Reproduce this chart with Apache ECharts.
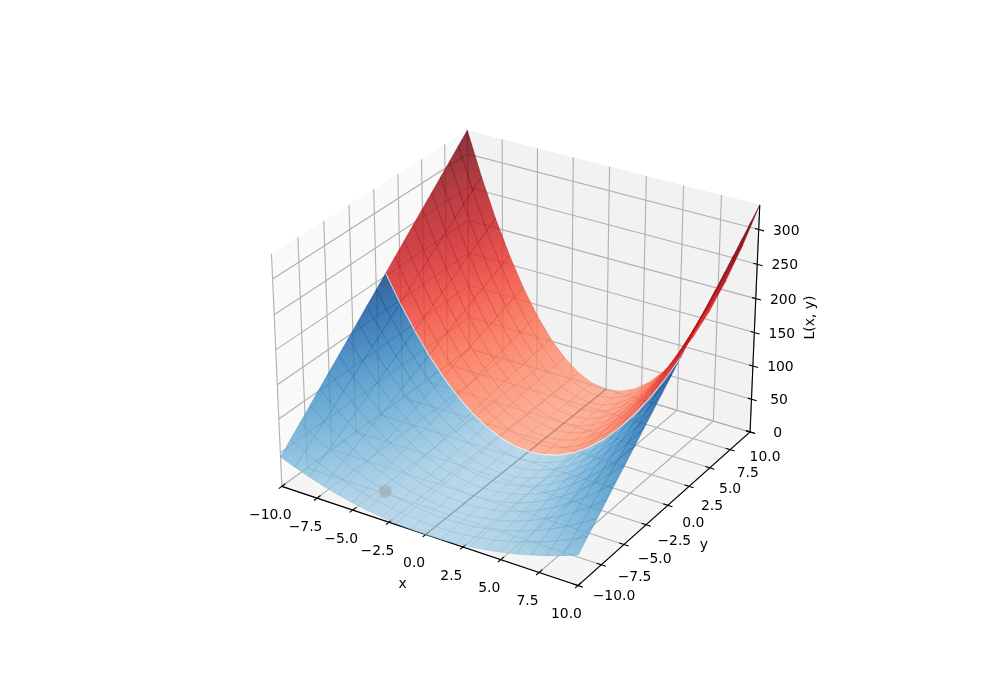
<!DOCTYPE html>
<html><head><meta charset="utf-8"><style>html,body{margin:0;padding:0;background:#fff}#c{width:1000px;height:700px}</style>
<script src="https://cdn.jsdelivr.net/npm/echarts@6/dist/echarts.min.js"></script></head><body><div id="c"></div>
<script>
const xValues=[-10,-9,-8,-7,-6,-5,-4,-3,-2,-1,0,1,2,3,4,5,6,7,8,9,10];
const yValues=[-10,-9,-8,-7,-6,-5,-4,-3,-2,-1,0,1,2,3,4,5,6,7,8,9,10];
const zTable=[
[44,35.6,28.2,21.6,15.8,11,7,4,1.8,.4,0,.4,1.8,4,7,11,15.8,21.6,28.2,35.6,44],
[58.6,47.4,37.5,28.7,21.1,14.6,9.4,5.3,2.3,.6,0,.6,2.3,5.3,9.4,14.6,21.1,28.7,37.5,47.4,58.6],
[73.1,59.2,46.8,35.8,26.3,18.3,11.7,6.6,2.9,.7,0,.7,2.9,6.6,11.7,18.3,26.3,35.8,46.8,59.2,73.1],
[87.7,71,56.1,42.9,31.6,21.9,14,7.9,3.5,.9,0,.9,3.5,7.9,14,21.9,31.6,42.9,56.1,71,87.7],
[102.2,82.8,65.4,50.1,36.8,25.6,16.4,9.2,4.1,1,0,1,4.1,9.2,16.4,25.6,36.8,50.1,65.4,82.8,102.2],
[116.8,94.6,74.7,57.2,42,29.2,18.7,10.5,4.7,1.2,0,1.2,4.7,10.5,18.7,29.2,42,57.2,74.7,94.6,116.8],
[131.3,106.4,84,64.3,47.3,32.8,21,11.8,5.3,1.3,0,1.3,5.3,11.8,21,32.8,47.3,64.3,84,106.4,131.3],
[145.9,118.1,93.3,71.5,52.5,36.5,23.3,13.1,5.8,1.5,0,1.5,5.8,13.1,23.3,36.5,52.5,71.5,93.3,118.1,145.9],
[160.4,129.9,102.7,78.6,57.7,40.1,25.7,14.4,6.4,1.6,0,1.6,6.4,14.4,25.7,40.1,57.7,78.6,102.7,129.9,160.4],
[175,141.7,112,85.7,63,43.7,28,15.7,7,1.7,0,1.7,7,15.7,28,43.7,63,85.7,112,141.7,175],
[189.5,153.5,121.3,92.9,68.2,47.4,30.3,17.1,7.6,1.9,0,1.9,7.6,17.1,30.3,47.4,68.2,92.9,121.3,153.5,189.5],
[204,165.3,130.6,100,73.5,51,32.6,18.4,8.2,2,0,2,8.2,18.4,32.6,51,73.5,100,130.6,165.3,204],
[218.6,177.1,139.9,107.1,78.7,54.7,35,19.7,8.7,2.2,0,2.2,8.7,19.7,35,54.7,78.7,107.1,139.9,177.1,218.6],
[233.2,188.9,149.2,114.2,83.9,58.3,37.3,21,9.3,2.3,0,2.3,9.3,21,37.3,58.3,83.9,114.2,149.2,188.9,233.2],
[247.7,200.6,158.5,121.4,89.2,61.9,39.6,22.3,9.9,2.5,0,2.5,9.9,22.3,39.6,61.9,89.2,121.4,158.5,200.6,247.7],
[262.3,212.4,167.8,128.5,94.4,65.6,42,23.6,10.5,2.6,0,2.6,10.5,23.6,42,65.6,94.4,128.5,167.8,212.4,262.3],
[276.8,224.2,177.2,135.6,99.6,69.2,44.3,24.9,11.1,2.8,0,2.8,11.1,24.9,44.3,69.2,99.6,135.6,177.2,224.2,276.8],
[291.4,236,186.5,142.8,104.9,72.8,46.6,26.2,11.7,2.9,0,2.9,11.7,26.2,46.6,72.8,104.9,142.8,186.5,236,291.4],
[305.9,247.8,195.8,149.9,110.1,76.5,48.9,27.5,12.2,3.1,0,3.1,12.2,27.5,48.9,76.5,110.1,149.9,195.8,247.8,305.9],
[320.5,259.6,205.1,157,115.4,80.1,51.3,28.8,12.8,3.2,0,3.2,12.8,28.8,51.3,80.1,115.4,157,205.1,259.6,320.5],
[335,271.4,214.4,164.2,120.6,83.8,53.6,30.2,13.4,3.4,0,3.4,13.4,30.2,53.6,83.8,120.6,164.2,214.4,271.4,335]];
const splitRow=11;
const xTicks=[-10,-7.5,-5,-2.5,0,2.5,5,7.5,10];
const yTicks=[-10,-7.5,-5,-2.5,0,2.5,5,7.5,10];
const zTicks=[0,50,100,150,200,250,300];
const xLabels=['−10.0','−7.5','−5.0','−2.5','0.0','2.5','5.0','7.5','10.0'];
const yLabels=['−10.0','−7.5','−5.0','−2.5','0.0','2.5','5.0','7.5','10.0'];
const zLabels=['0','50','100','150','200','250','300'];
const marker=[-4.6,-7.3,0];
const ZMAX=335, XMIN=-10,XMAX=10,YMIN=-10,YMAX=10;
const ELEV=28*Math.PI/180, AZIM=-58*Math.PI/180, DIST=10;
const k=1.8294640721620434*25/24/Math.sqrt(41), bx=4*k,by=4*k,bz=3*k;
const w=[Math.cos(ELEV)*Math.cos(AZIM),Math.cos(ELEV)*Math.sin(AZIM),Math.sin(ELEV)];
const hn=Math.hypot(w[0],w[1]);
const u=[-w[1]/hn,w[0]/hn,0];
const v=[w[1]*u[2]-w[2]*u[1],w[2]*u[0]-w[0]*u[2],w[0]*u[1]-w[1]*u[0]];
function view(x,y,z){
  const d=[(x-XMIN)/(XMAX-XMIN)*bx-bx/2,(y-YMIN)/(YMAX-YMIN)*by-by/2,z/ZMAX*bz-bz/2];
  const dot=(a)=>a[0]*d[0]+a[1]*d[1]+a[2]*d[2];
  return [dot(u),dot(v),dot(w)-DIST];
}
function proj(x,y,z){const p=view(x,y,z);return [p[0]/-p[2],p[1]/-p[2]];}
const BLUES=['#f7fbff','#deebf7','#c6dbef','#9ecae1','#6baed6','#4292c6','#2171b5','#08519c','#08306b'];
const REDS=['#fff5f0','#fee0d2','#fcbba1','#fc9272','#fb6a4a','#ef3b2c','#cb181d','#a50f15','#67000d'];
function hex(c){return [1,3,5].map(i=>parseInt(c.substr(i,2),16));}
function cmap(st,t,al){t=Math.max(0,Math.min(1,t))*8;const i=Math.min(7,Math.floor(t)),f=t-i,a=hex(st[i]),b=hex(st[i+1]);
  return 'rgba('+[0,1,2].map(n=>Math.round(a[n]+(b[n]-a[n])*f)).join(',')+','+al+')';}
const tBlue=z=>0.33+0.63*z/204, tRed=z=>0.33+0.67*z/335;
const cells=[];
for(let j=0;j<20;j++)for(let i=0;i<20;i++){
  const xm=(xValues[i]+xValues[i+1])/2,ym=(yValues[j]+yValues[j+1])/2;
  const zm=(zTable[j][i]+zTable[j][i+1]+zTable[j+1][i]+zTable[j+1][i+1])/4;
  cells.push([i,j,view(xm,ym,zm)[2]]);
}
cells.sort((a,b)=>a[2]-b[2]);
const panes=[
 [[XMIN,YMIN,0],[XMIN,YMAX,0],[XMIN,YMAX,ZMAX],[XMIN,YMIN,ZMAX],'#f9f9f9'],
 [[XMIN,YMAX,0],[XMAX,YMAX,0],[XMAX,YMAX,ZMAX],[XMIN,YMAX,ZMAX],'#f2f2f2'],
 [[XMIN,YMIN,0],[XMAX,YMIN,0],[XMAX,YMAX,0],[XMIN,YMAX,0],'#f5f5f5']];
const lines=[];const G='#b0b0b0',K='#000';
xTicks.forEach(t=>lines.push({p:[[t,YMIN,0],[t,YMAX,0],[t,YMAX,ZMAX]],c:G,w:1.1}));
yTicks.forEach(t=>lines.push({p:[[XMAX,t,0],[XMIN,t,0],[XMIN,t,ZMAX]],c:G,w:1.1}));
zTicks.forEach(t=>lines.push({p:[[XMIN,YMIN,t],[XMIN,YMAX,t],[XMAX,YMAX,t]],c:G,w:1.1}));
lines.push({p:[[XMIN,YMIN,0],[XMAX,YMIN,0]],c:K,w:1.1});
lines.push({p:[[XMAX,YMIN,0],[XMAX,YMAX,0]],c:K,w:1.1});
lines.push({p:[[XMAX,YMAX,0],[XMAX,YMAX,ZMAX]],c:K,w:1.1});
xTicks.forEach(t=>lines.push({p:[[t,YMIN-.3,0],[t,YMIN+.35,0]],c:K,w:1.1}));
yTicks.forEach(t=>lines.push({p:[[XMAX-.3,t,0],[XMAX+.3,t,0]],c:K,w:1.1}));
zTicks.forEach(t=>lines.push({p:[[XMAX-.25,YMAX,t],[XMAX+.35,YMAX,t]],c:K,w:1.1}));
const overlay=[
 {p:[[0,YMIN,0],[0,YMAX,0]],c:'rgba(90,90,90,0.35)',w:1.2},
 {p:xValues.map((x,i)=>[x,yValues[splitRow],zTable[splitRow][i]]),c:'rgba(255,255,255,0.75)',w:1.1}];
const FONT='13.9px "DejaVu Sans"';
const texts=[];
xTicks.forEach((t,i)=>texts.push({a:[t,YMIN,0],dx:-11.5,dy:29,s:xLabels[i]}));
yTicks.forEach((t,i)=>{const f=(t+10)/20;texts.push({a:[XMAX,t,0],dx:36-21*f,dy:11+14*f,s:yLabels[i]});});
zTicks.forEach((t,i)=>texts.push({a:[XMAX,YMAX,t],dx:27.5,dy:1.5,s:zLabels[i]}));
texts.push({a:[0,YMIN,0],dx:-23,dy:50,s:'x'});
texts.push({a:[XMAX,0,0],dx:36,dy:40,s:'y'});
texts.push({a:[XMAX,YMAX,150],dx:56,dy:-15,s:'L(x, y)',r:Math.PI/2});
const chart=echarts.init(document.getElementById('c'),null,{renderer:'canvas'});
const pt=(api,q)=>api.coord(proj(q[0],q[1],q[2]));
function cust(z,data,render){return {type:'custom',coordinateSystem:'cartesian2d',z,silent:true,clip:false,animation:false,progressive:0,data,renderItem:render};}
function lineRender(arr){return (params,api)=>{const L=arr[params.dataIndex];
  return {type:'polyline',shape:{points:L.p.map(q=>pt(api,q))},style:{stroke:L.c,lineWidth:L.w,fill:null}};};}
function surf(params,api){
  const i=api.value(0),j=api.value(1);
  const idx=[[i,j],[i+1,j],[i+1,j+1],[i,j+1]];
  const red=j>=splitRow,st=red?REDS:BLUES,tf=red?tRed:tBlue;
  const ps=idx.map(a=>api.coord(proj(xValues[a[0]],yValues[a[1]],zTable[a[1]][a[0]])));
  const ts=idx.map(a=>tf(zTable[a[1]][a[0]]));
  const tc=(ts[0]+ts[1]+ts[2]+ts[3])/4;
  let area=0;for(let n=0;n<4;n++){const a=ps[n],b=ps[(n+1)%4];area+=a[0]*b[1]-b[0]*a[1];}
  const al=area>0?0.93:0.8;
  let fill=cmap(st,tc,al);
  const d1=[ps[2][0]-ps[0][0],ps[2][1]-ps[0][1]],d2=[ps[3][0]-ps[1][0],ps[3][1]-ps[1][1]];
  const e1=ts[2]-ts[0],e2=ts[3]-ts[1],det=d1[0]*d2[1]-d1[1]*d2[0];
  if(Math.abs(det)>4){
    const gx=(e1*d2[1]-e2*d1[1])/det,gy=(d1[0]*e2-d2[0]*e1)/det,n=gx*gx+gy*gy;
    if(n>1e-12){
      const tl=Math.min(...ts),th=Math.max(...ts);
      const cx=(ps[0][0]+ps[1][0]+ps[2][0]+ps[3][0])/4,cy=(ps[0][1]+ps[1][1]+ps[2][1]+ps[3][1])/4;
      fill=new echarts.graphic.LinearGradient(cx+(tl-tc)*gx/n,cy+(tl-tc)*gy/n,cx+(th-tc)*gx/n,cy+(th-tc)*gy/n,
        [{offset:0,color:cmap(st,tl,al)},{offset:.5,color:cmap(st,(tl+th)/2,al)},{offset:1,color:cmap(st,th,al)}],true);
    }
  }
  return {type:'polygon',z2:params.dataIndex,shape:{points:ps},style:{fill,stroke:cmap(st,tc+.1,0.55),lineWidth:.7}};
}
chart.setOption({animation:false,
 grid:{left:243,top:84,width:539,height:539,show:false},
 xAxis:{type:'value',min:-0.095,max:0.09,show:false},
 yAxis:{type:'value',min:-0.095,max:0.09,show:false},
 series:[
  cust(1,panes.map((_,i)=>[i,0]),(params,api)=>{const P=panes[params.dataIndex];return {type:'polygon',shape:{points:P.slice(0,4).map(q=>pt(api,q))},style:{fill:P[4]}};}),
  cust(2,lines.map((_,i)=>[i,0]),lineRender(lines)),
  cust(4,cells.map(c=>[c[0],c[1]]),surf),
  cust(5,overlay.map((_,i)=>[i,0]),lineRender(overlay)),
  cust(6,[[0,0]],(params,api)=>{const c=pt(api,marker);return {type:'circle',shape:{cx:c[0],cy:c[1],r:6.5},style:{fill:'rgba(150,150,150,0.4)'}};}),
  cust(7,texts.map((_,i)=>[i,0]),(params,api)=>{const T=texts[params.dataIndex],c=pt(api,T.a);
    return {type:'text',x:c[0]+T.dx,y:c[1]+T.dy,rotation:T.r||0,style:{text:T.s,font:FONT,fill:'#000',align:'center',verticalAlign:'middle'}};})
 ]});
</script></body></html>
